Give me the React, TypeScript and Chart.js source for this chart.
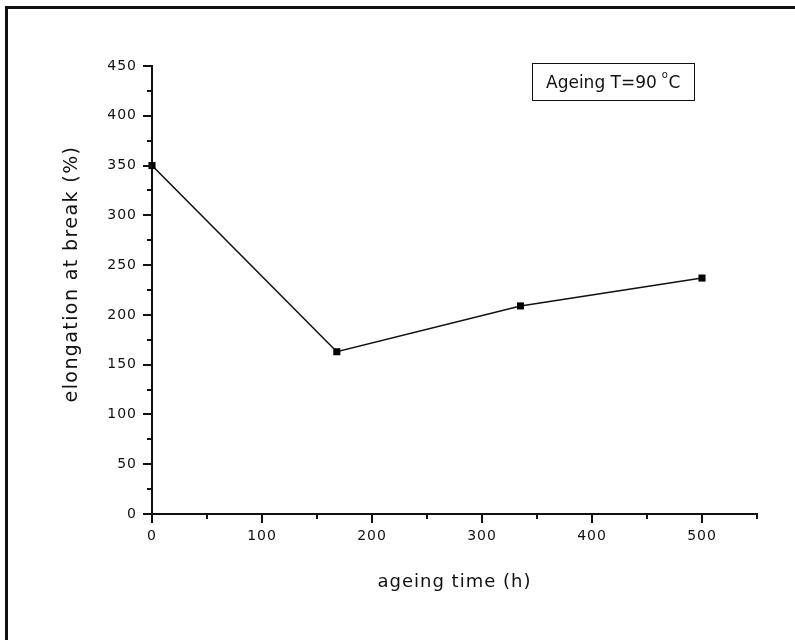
import React, { useEffect, useRef } from 'react';
import { Chart, registerables } from 'chart.js';

Chart.register(...registerables);

// ---- data ----
const ageingTimes = [0, 168, 335, 500];
const elongationAtBreak = [350, 163, 209, 237];

const xMin = 0;
const xMax = 550;
const xStep = 50;
const xLabelEvery = 100;
const yMin = 0;
const yMax = 450;
const yStep = 25;
const yLabelEvery = 50;

const xAxisTitle = 'ageing time (h)';
const yAxisTitle = 'elongation at break (%)';
const legendMain = 'Ageing T=90';
const legendSup = 'o';
const legendTail = 'C';

const FONT = '"DejaVu Sans", sans-serif';
const INK = '#111111';

const decorPlugin = {
  id: 'decor',
  beforeDraw(chart: any) {
    chart.ctx.letterSpacing = '1px';
  },
  afterDraw(chart: any) {
    const { ctx, chartArea, scales } = chart;
    const xs = scales.x;
    const ys = scales.y;
    ctx.save();
    ctx.strokeStyle = INK;
    ctx.lineWidth = 2;
    ctx.beginPath();
    for (const t of xs.ticks) {
      const px = Math.round(xs.getPixelForValue(t.value));
      const len = t.value % xLabelEvery === 0 ? 9 : 5;
      ctx.moveTo(px, chartArea.bottom);
      ctx.lineTo(px, chartArea.bottom + len);
    }
    for (const t of ys.ticks) {
      const py = Math.round(ys.getPixelForValue(t.value));
      const len = t.value % yLabelEvery === 0 ? 9 : 5;
      ctx.moveTo(chartArea.left - len, py);
      ctx.lineTo(chartArea.left, py);
    }
    ctx.stroke();

    // outer frame
    ctx.lineWidth = 3;
    ctx.strokeRect(6.5, 7.5, 800, 640);

    // axis titles
    ctx.fillStyle = INK;
    ctx.textAlign = 'center';
    ctx.textBaseline = 'alphabetic';
    ctx.font = `18px ${FONT}`;
    ctx.letterSpacing = '1px';
    ctx.fillText(xAxisTitle, (chartArea.left + chartArea.right) / 2, 587);

    ctx.save();
    ctx.translate(77, 274);
    ctx.rotate(-Math.PI / 2);
    ctx.font = `19px ${FONT}`;
    ctx.letterSpacing = '1.4px';
    ctx.fillText(yAxisTitle, 0, 0);
    ctx.restore();

    // legend box
    ctx.lineWidth = 1;
    ctx.strokeRect(532.5, 63.5, 162, 37);
    ctx.letterSpacing = '0px';
    ctx.textAlign = 'left';
    ctx.font = `17px ${FONT}`;
    const lx = 546;
    ctx.fillText(legendMain, lx, 88);
    const w1 = ctx.measureText(legendMain).width;
    ctx.font = `10px ${FONT}`;
    const xo = lx + w1 + 5;
    ctx.fillText(legendSup, xo, 78);
    const wo = ctx.measureText(legendSup).width;
    ctx.font = `17px ${FONT}`;
    ctx.fillText(legendTail, xo + wo + 0.5, 88);
    ctx.restore();
  },
};

export default function App() {
  const canvasRef = useRef<HTMLCanvasElement | null>(null);

  useEffect(() => {
    const canvas = canvasRef.current;
    if (!canvas) return;
    const points = ageingTimes.map((t, i) => ({ x: t, y: elongationAtBreak[i] }));
    const chart = new Chart(canvas, {
      type: 'line',
      data: {
        datasets: [
          {
            data: points,
            borderColor: INK,
            backgroundColor: INK,
            borderWidth: 1.6,
            pointStyle: 'rect',
            pointRadius: 5,
            pointBorderWidth: 0,
            pointBackgroundColor: '#000',
            tension: 0,
            clip: false as any,
          },
        ],
      },
      options: {
        responsive: false,
        animation: false,
        events: [],
        layout: { padding: { left: 0, top: 66, right: 38, bottom: 0 } },
        plugins: {
          legend: { display: false },
          tooltip: { enabled: false },
        },
        scales: {
          x: {
            type: 'linear',
            min: xMin,
            max: xMax,
            afterFit: (s: any) => {
              s.height = 126;
            },
            grid: { display: true, color: 'rgba(0,0,0,0)', drawTicks: false },
            border: { display: true, color: INK, width: 2 },
            ticks: {
              stepSize: xStep,
              autoSkip: false,
              maxRotation: 0,
              padding: 14,
              color: INK,
              font: { family: FONT, size: 14 },
              callback: (v: any) => (Number(v) % xLabelEvery === 0 ? String(v) : ''),
            },
          },
          y: {
            type: 'linear',
            min: yMin,
            max: yMax,
            afterFit: (s: any) => {
              s.width = 152;
            },
            grid: { display: true, color: 'rgba(0,0,0,0)', drawTicks: false },
            border: { display: true, color: INK, width: 2 },
            ticks: {
              stepSize: yStep,
              autoSkip: false,
              padding: 15,
              color: INK,
              font: { family: FONT, size: 14 },
              callback: (v: any) => (Number(v) % yLabelEvery === 0 ? String(v) : ''),
            },
          },
        },
      },
      plugins: [decorPlugin],
    } as any);
    return () => chart.destroy();
  }, []);

  return (
    <div style={{ position: 'absolute', left: 0, top: 0, width: 795, height: 640, background: '#fff' }}>
      <canvas ref={canvasRef} width={795} height={640} style={{ display: 'block' }} />
    </div>
  );
}
